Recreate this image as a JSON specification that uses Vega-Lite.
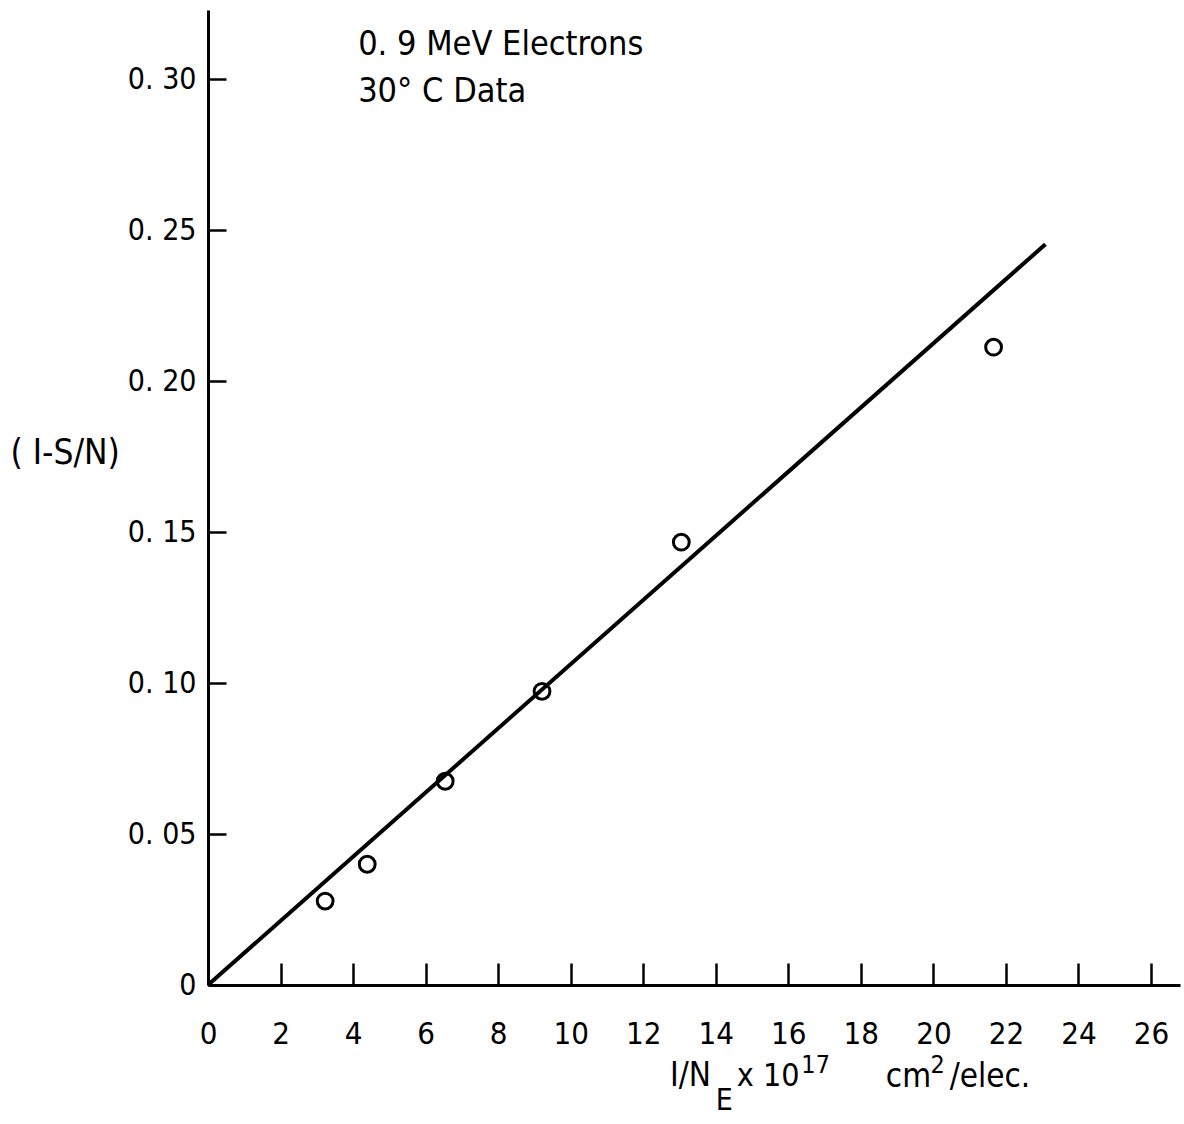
{
  "$schema": "https://vega.github.io/schema/vega-lite/v6.json",
  "width": 972,
  "height": 975,
  "autosize": {"type": "none"},
  "padding": {"left": 208, "top": 10, "right": 4, "bottom": 139},
  "background": "white",
  "config": {
    "view": {"stroke": null},
    "font": "DejaVu Sans Condensed",
    "axis": {"grid": false, "domainColor": "black", "tickColor": "black", "labelColor": "black", "titleColor": "black", "domainWidth": 3, "tickWidth": 2.5, "labelFont": "DejaVu Sans Condensed", "titleFont": "DejaVu Sans Condensed"},
    "text": {"font": "DejaVu Sans Condensed", "color": "black"}
  },
  "datasets": {
    "points": [
      {"x": 3.23, "y": 0.0278},
      {"x": 4.39, "y": 0.0400},
      {"x": 6.54, "y": 0.0675},
      {"x": 9.21, "y": 0.0973},
      {"x": 13.05, "y": 0.1467},
      {"x": 21.66, "y": 0.2113}
    ],
    "fit": [
      {"x": 0, "y": 0},
      {"x": 23.09, "y": 0.2454}
    ],
    "one": [{}]
  },
  "layer": [
    {
      "data": {"name": "fit"},
      "mark": {"type": "line", "color": "black", "strokeWidth": 4},
      "encoding": {
        "x": {
          "field": "x", "type": "quantitative",
          "scale": {"domain": [0, 26.8], "nice": false, "zero": false},
          "axis": {"values": [0, 2, 4, 6, 8, 10, 12, 14, 16, 18, 20, 22, 24, 26], "tickSize": -22, "labelPadding": 56, "labelFontSize": 31, "labelBaseline": "top", "labelFlush": false, "title": null}
        },
        "y": {
          "field": "y", "type": "quantitative",
          "scale": {"domain": [0, 0.323], "nice": false, "zero": false},
          "axis": {
            "values": [0, 0.05, 0.1, 0.15, 0.2, 0.25, 0.3],
            "tickSize": -18, "labelPadding": 30, "labelFontSize": 30, "labelFlush": false,
            "labelExpr": "datum.value == 0 ? '0' : replace(format(datum.value, '.2f'), '.', '. ')",
            "title": "( I-S/N)", "titleAngle": 0, "titleAlign": "left", "titleBaseline": "middle",
            "titleX": -198, "titleY": 442, "titleFontSize": 35, "titleFontWeight": "normal"
          }
        }
      }
    },
    {
      "data": {"name": "points"},
      "mark": {"type": "point", "shape": "circle", "filled": false, "color": "black", "strokeWidth": 3, "size": 250, "opacity": 1},
      "encoding": {
        "x": {"field": "x", "type": "quantitative"},
        "y": {"field": "y", "type": "quantitative"}
      }
    },
    {
      "data": {"name": "one"},
      "mark": {"type": "text", "text": "0. 9 MeV Electrons", "align": "left", "baseline": "middle", "fontSize": 34},
      "encoding": {"x": {"datum": 4.14}, "y": {"datum": 0.3115}}
    },
    {
      "data": {"name": "one"},
      "mark": {"type": "text", "text": "30° C Data", "align": "left", "baseline": "middle", "fontSize": 34},
      "encoding": {"x": {"datum": 4.14}, "y": {"datum": 0.2959}}
    },
    {
      "data": {"name": "one"},
      "mark": {"type": "text", "text": "I/N", "align": "left", "baseline": "middle", "fontSize": 33},
      "encoding": {"x": {"datum": 12.74}, "y": {"datum": -0.0300}}
    },
    {
      "data": {"name": "one"},
      "mark": {"type": "text", "text": "E", "align": "left", "baseline": "middle", "fontSize": 30},
      "encoding": {"x": {"datum": 14.0}, "y": {"datum": -0.0385}}
    },
    {
      "data": {"name": "one"},
      "mark": {"type": "text", "text": "x 10", "align": "left", "baseline": "middle", "fontSize": 32},
      "encoding": {"x": {"datum": 14.58}, "y": {"datum": -0.0302}}
    },
    {
      "data": {"name": "one"},
      "mark": {"type": "text", "text": "17", "align": "left", "baseline": "middle", "fontSize": 25},
      "encoding": {"x": {"datum": 16.36}, "y": {"datum": -0.0266}}
    },
    {
      "data": {"name": "one"},
      "mark": {"type": "text", "text": "cm", "align": "left", "baseline": "middle", "fontSize": 33},
      "encoding": {"x": {"datum": 18.69}, "y": {"datum": -0.0305}}
    },
    {
      "data": {"name": "one"},
      "mark": {"type": "text", "text": "2", "align": "left", "baseline": "middle", "fontSize": 25},
      "encoding": {"x": {"datum": 19.92}, "y": {"datum": -0.0266}}
    },
    {
      "data": {"name": "one"},
      "mark": {"type": "text", "text": "/elec.", "align": "left", "baseline": "middle", "fontSize": 33},
      "encoding": {"x": {"datum": 20.45}, "y": {"datum": -0.0305}}
    }
  ]
}
